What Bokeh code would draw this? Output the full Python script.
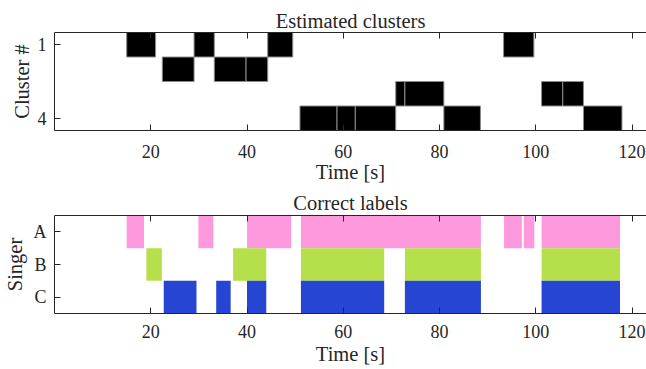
from bokeh.plotting import figure
from bokeh.models import Range1d, LinearAxis, FixedTicker
from bokeh.layouts import column
from bokeh.embed import file_html
from bokeh.resources import INLINE

# ---------------- data ----------------
# Estimated clusters: segment start / end [s] and cluster number
est_start = [15.0, 29.0, 44.3, 93.3, 22.4, 33.2, 39.8, 70.9, 72.8, 101.2, 105.6,
             51.0, 58.7, 62.5, 80.9, 109.9]
est_end = [21.0, 33.2, 49.5, 99.6, 29.0, 39.8, 44.3, 72.8, 80.9, 105.6, 109.9,
           58.7, 62.5, 70.9, 88.5, 117.9]
est_cluster = [1, 1, 1, 1, 2, 2, 2, 3, 3, 3, 3, 4, 4, 4, 4, 4]
cluster_ticks = [1, 4]

# Correct labels per singer
singers = ["A", "B", "C"]
singer_colors = ["#ff99de", "#b5e04b", "#2645d3"]
a_start = [15.0, 29.9, 40.0, 51.2, 93.4, 97.5, 101.2]
a_end = [18.6, 33.0, 49.2, 88.6, 97.1, 99.7, 117.5]
b_start = [19.1, 37.1, 51.2, 72.8, 101.2]
b_end = [22.3, 44.0, 68.5, 88.6, 117.5]
c_start = [22.7, 33.6, 40.0, 51.2, 72.8, 101.2]
c_end = [29.5, 36.6, 44.0, 68.5, 88.6, 117.5]

time_ticks = [20, 40, 60, 80, 100, 120]
t_min, t_max = 0.0, 123.0

FONT = "Liberation Serif"
TXT = "#262626"
AX = "#262626"


def make_fig(title, y_start, y_end, ylabel, yticks, top_b, bot_b, title_so,
             xl_standoff, xa_standoff, yl_standoff):
    p = figure(frame_width=592, frame_height=98,
               x_range=Range1d(t_min, t_max), y_range=Range1d(y_start, y_end),
               output_backend="svg", toolbar_location=None,
               min_border_left=54, min_border_right=0,
               min_border_top=top_b, min_border_bottom=bot_b,
               background_fill_color="white", border_fill_color="white")
    p.outline_line_color = None
    p.xgrid.visible = False
    p.ygrid.visible = False
    p.title.text = title
    p.title.align = "center"
    p.title.text_font = FONT
    p.title.text_font_size = "20.5px"
    p.title.text_font_style = "normal"
    p.title.text_color = TXT
    p.title.standoff = title_so

    xa = p.xaxis[0]
    xa.ticker = FixedTicker(ticks=time_ticks)
    xa.axis_label = "Time [s]"
    xa.major_label_standoff = xl_standoff
    xa.axis_label_standoff = xa_standoff

    ya = p.yaxis[0]
    ya.ticker = FixedTicker(ticks=yticks)
    ya.axis_label = ylabel
    ya.major_label_standoff = 8
    ya.axis_label_standoff = yl_standoff

    top = LinearAxis(ticker=FixedTicker(ticks=time_ticks), major_label_standoff=0)
    p.add_layout(top, "above")

    for ax in [xa, ya, top]:
        ax.axis_line_color = AX
        ax.major_tick_line_color = AX
        ax.major_tick_in = 6
        ax.major_tick_out = 0
        ax.minor_tick_in = 0
        ax.minor_tick_out = 0
        ax.minor_tick_line_color = None
        ax.major_label_text_font = FONT
        ax.major_label_text_font_size = "18px"
        ax.major_label_text_color = TXT
        ax.axis_label_text_font = FONT
        ax.axis_label_text_font_size = "20.5px"
        ax.axis_label_text_font_style = "normal"
        ax.axis_label_text_color = TXT
    top.major_label_text_font_size = "1px"
    top.major_label_text_color = None
    return p


# ---- top: estimated clusters ----
p1 = make_fig("Estimated clusters", 4.5, 0.5, "Cluster #", cluster_ticks,
              32, 57, 2, 14, 0, 2)
p1.quad(left=est_start, right=est_end,
        bottom=[c + 0.5 for c in est_cluster], top=[c - 0.5 for c in est_cluster],
        fill_color="black", line_color="#8c8c8c", line_width=1)

# ---- bottom: correct labels ----
p2 = make_fig("Correct labels", 3.5, 0.5, "Singer", [1, 2, 3],
              27, 54, 4, 11, 2, 5)
p2.yaxis[0].major_label_overrides = {i + 1: s for i, s in enumerate(singers)}
for k, (st, en) in enumerate([(a_start, a_end), (b_start, b_end), (c_start, c_end)]):
    row = k + 1
    p2.quad(left=st, right=en, bottom=[row + 0.5] * len(st), top=[row - 0.5] * len(st),
            fill_color=singer_colors[k], line_color=None)

layout = column(p1, p2)
open("out.html", "w").write(file_html(layout, INLINE))
